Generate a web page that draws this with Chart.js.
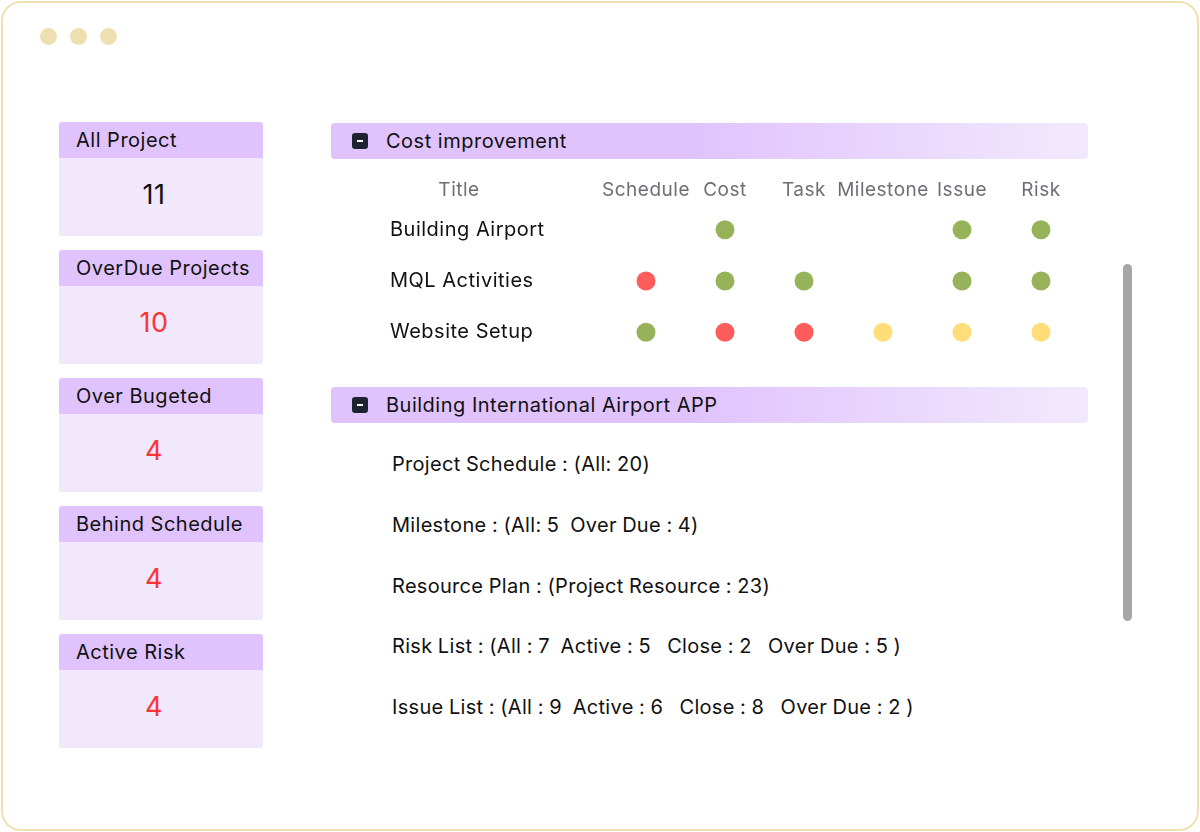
<!DOCTYPE html>
<html>
<head>
<meta charset="utf-8">
<script src="https://cdn.jsdelivr.net/npm/chart.js@4.4.1/dist/chart.umd.min.js"></script>
<style>
  html, body { margin: 0; padding: 0; background: #fff; }
  body { width: 1200px; height: 832px; position: relative; overflow: hidden;
         font-family: "Inter", "Noto Sans", sans-serif; color: #111; letter-spacing: 0.5px; }
  .frame { position: absolute; left: 1px; top: 1px; width: 1194px; height: 826px;
           border: 2px solid #EFE0B4; border-radius: 20px; }
  .dot { position: absolute; top: 28px; width: 17px; height: 17px; border-radius: 50%; background: #EEDFB0; }
  .card { position: absolute; left: 59px; width: 204px; height: 114px; border-radius: 3px; background: #F1E8FC; }
  .card .hd { height: 36px; line-height: 36px; background: #E0C3FC; border-radius: 3px 3px 0 0;
              padding-left: 17px; font-size: 20px; }
  .card .val { text-align: center; padding-right: 14px; font-size: 27px; line-height: 73px; color: #FF3333; }
  .group { position: absolute; left: 331px; width: 757px; height: 36px; border-radius: 4px;
           background: linear-gradient(90deg, #E0C3FC 0%, #E0C3FC 48%, #F2E9FD 100%); }
  .group .ic { position: absolute; left: 21px; top: 10px; width: 16px; height: 16px; border-radius: 3px; background: #1D2130; }
  .group .ic:after { content: ""; position: absolute; left: 5px; top: 7px; width: 6px; height: 2px; background: #fff; }
  .group .tx { position: absolute; left: 55px; top: 0; line-height: 36px; font-size: 20px; }
  #chartBox { position: absolute; left: 390px; top: 172px; width: 700px; height: 198px; }
  .lines { position: absolute; left: 392px; top: 434px; font-size: 20px; letter-spacing: 0.3px; word-spacing: -0.5px; }
  .lines div { height: 60.75px; line-height: 60.75px; white-space: pre; }
  .scroll { position: absolute; left: 1123px; top: 264px; width: 9px; height: 357px; border-radius: 5px; background: #A6A6A6; }
</style>
</head>
<body>
<div class="frame"></div>
<div class="dot" style="left:40px"></div>
<div class="dot" style="left:70px"></div>
<div class="dot" style="left:100px"></div>

<div id="cards"></div>

<div class="group" style="top:123px"><div class="ic"></div><div class="tx" id="g1"></div></div>
<div id="chartBox"><canvas id="statusChart"></canvas></div>

<div class="group" style="top:387px"><div class="ic"></div><div class="tx" id="g2"></div></div>
<div class="lines" id="lines"></div>

<div class="scroll"></div>

<script>
// left summary cards
var cardTitles = ['All Project', 'OverDue Projects', 'Over Bugeted', 'Behind Schedule', 'Active Risk'];
var cardValues = [11, 10, 4, 4, 4];

// first group: status matrix
var groupNames = ['Cost improvement', 'Building International Airport APP'];
var statusColumns = ['Schedule', 'Cost', 'Task', 'Milestone', 'Issue', 'Risk'];
var projectRows = ['Building Airport', 'MQL Activities', 'Website Setup'];
var buildingAirport = ['', 'green', '', '', 'green', 'green'];
var mqlActivities = ['red', 'green', 'green', '', 'green', 'green'];
var websiteSetup = ['green', 'red', 'red', 'yellow', 'yellow', 'yellow'];

// second group: summary lines
var summaryLines = [
    'Project Schedule : (All: 20)',
    'Milestone : (All: 5  Over Due : 4)',
    'Resource Plan : (Project Resource : 23)',
    'Risk List : (All : 7  Active : 5   Close : 2   Over Due : 5 )',
    'Issue List : (All : 9  Active : 6   Close : 8   Over Due : 2 )'
];

var statusColors = { green: '#97B35A', red: '#FF5C5C', yellow: '#FFDE7A' };

var cardsHtml = '';
for (var i = 0; i < cardTitles.length; i++) {
    var cardTop = 122 + i * 128;
    var col = i === 0 ? '#111' : '#FF3333';
    cardsHtml += '<div class="card" style="top:' + cardTop + 'px"><div class="hd">' + cardTitles[i] +
        '</div><div class="val" style="color:' + col + '">' + cardValues[i] + '</div></div>';
}
document.getElementById('cards').innerHTML = cardsHtml;
document.getElementById('g1').textContent = groupNames[0];
document.getElementById('g2').textContent = groupNames[1];
document.getElementById('lines').innerHTML = summaryLines.map(function (s) { return '<div>' + s + '</div>'; }).join('');

var rowStatus = [buildingAirport, mqlActivities, websiteSetup];
var datasets = [];
['green', 'red', 'yellow'].forEach(function (st) {
    var pts = [];
    for (var r = 0; r < projectRows.length; r++) {
        for (var c = 0; c < statusColumns.length; c++) {
            if (rowStatus[r][c] === st) pts.push({ x: statusColumns[c], y: projectRows[r] });
        }
    }
    datasets.push({
        label: st,
        data: pts,
        pointRadius: 9.5,
        pointHoverRadius: 9.5,
        pointBackgroundColor: statusColors[st],
        pointBorderWidth: 0,
        showLine: false
    });
});

var fontFamily = 'Inter, "Noto Sans", sans-serif';

// letter spacing + "Title" header over the row labels
var titleHeader = {
    id: 'titleHeader',
    beforeDraw: function (chart) {
        chart.ctx.letterSpacing = '0.5px';
    },
    afterDraw: function (chart) {
        var ctx = chart.ctx;
        ctx.save();
        ctx.letterSpacing = '0.5px';
        ctx.font = '19px ' + fontFamily;
        ctx.fillStyle = '#6E6E76';
        ctx.textAlign = 'center';
        ctx.textBaseline = 'middle';
        ctx.fillText('Title', 69, 18);
        ctx.restore();
    }
};

new Chart(document.getElementById('statusChart'), {
    type: 'scatter',
    data: { datasets: datasets },
    plugins: [titleHeader],
    options: {
        responsive: true,
        maintainAspectRatio: false,
        animation: false,
        layout: { padding: 0 },
        plugins: { legend: { display: false }, tooltip: { enabled: false } },
        scales: {
            x: {
                type: 'category',
                labels: statusColumns,
                position: 'top',
                offset: true,
                grid: { display: false, drawTicks: false },
                border: { display: false },
                ticks: { color: '#6E6E76', padding: 2, maxRotation: 0, minRotation: 0, autoSkip: false,
                         font: { family: fontFamily, size: 19 } },
                afterFit: function (scale) { scale.height = 32; }
            },
            y: {
                type: 'category',
                labels: projectRows,
                offset: true,
                grid: { display: false, drawTicks: false },
                border: { display: false },
                ticks: { color: '#111', crossAlign: 'far', padding: 0, autoSkip: false,
                         font: { family: fontFamily, size: 20 } },
                afterFit: function (scale) { scale.width = 216.5; }
            }
        }
    }
});
</script>
</body>
</html>
